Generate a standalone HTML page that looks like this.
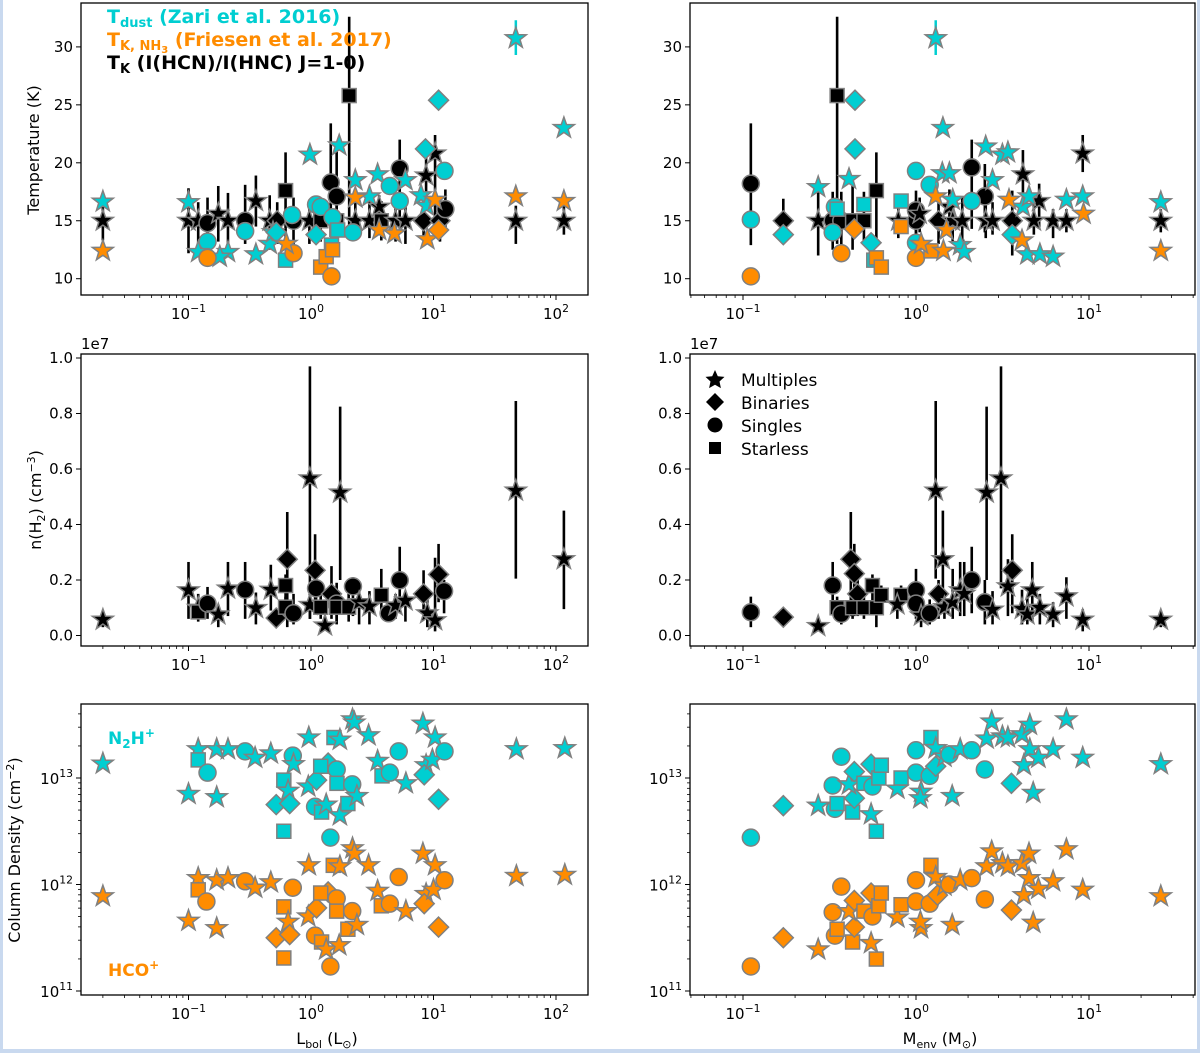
<!DOCTYPE html>
<html><head><meta charset="utf-8"><style>
html,body{margin:0;padding:0;background:#c9d9ef;}
svg{display:block;}
text{font-family:"DejaVu Sans","Liberation Sans",sans-serif;}
</style></head><body>
<svg id="fig" width="1200" height="1053" viewBox="0 0 1200 1053" xmlns="http://www.w3.org/2000/svg">
<rect x="3" y="0" width="1194" height="1049" fill="#ffffff"/>
<g id="layer"></g>
</svg>
<script>
// ---------- data ----------
const tlCyan = [[0.020,16.65,'S'],[0.10,16.6,'S'],[11,25.4,'D'],[47,30.75,'S'],[116,23.0,'S'],[0.98,20.7,'S'],[1.7,21.5,'S'],[8.6,21.2,'D'],[12.3,19.3,'O'],[2.3,18.5,'S'],[3.5,19.0,'S'],[4.4,18.0,'O'],[5.9,18.5,'S'],[5.3,16.7,'O'],[7.9,17.2,'S'],[1.1,16.4,'O'],[0.29,14.1,'O'],[0.143,13.2,'O'],[0.12,12.3,'S'],[0.21,12.3,'S'],[0.18,11.9,'S'],[0.355,12.1,'S'],[0.46,13.0,'S'],[0.49,14.0,'S'],[0.52,14.0,'D'],[0.62,11.6,'Q'],[1.1,13.8,'D'],[1.2,16.2,'O'],[1.47,12.9,'Q'],[1.5,15.3,'O'],[2.2,14.0,'O'],[1.65,14.2,'Q'],[3.0,17.1,'S'],[8.8,16.3,'S'],[0.7,15.5,'O']];
const tlOrange = [[0.020,12.4,'S'],[0.143,11.8,'O'],[0.72,12.2,'O'],[1.2,11.0,'Q'],[1.33,11.9,'Q'],[1.5,12.5,'Q'],[1.47,10.2,'O'],[2.3,17.0,'S'],[3.6,14.2,'S'],[4.8,13.9,'S'],[8.9,13.4,'S'],[10.3,16.8,'S'],[11,14.2,'D'],[47,17.1,'S'],[116,16.7,'S'],[0.63,13.0,'S']];
const tlBlack = [[0.020,15,'S',13.3,16.3],[0.10,15,'S',12.2,17.8],[0.12,15,'S',12.5,16.6],[0.143,14.8,'O',12.6,17.0],[0.175,15.6,'S',13.2,18.0],[0.21,15,'S',12.8,17.4],[0.29,15,'O',13.0,18.1],[0.355,16.7,'S',14.5,18.9],[0.46,15,'S',12.5,17.2],[0.53,15,'D',13.0,16.6],[0.62,17.6,'Q',13.5,20.9],[0.72,15,'O',12.5,17.0],[0.97,15,'S',13.0,16.8],[1.2,15,'Q',13.2,17.0],[1.45,18.3,'O',13.6,23.4],[1.62,17.1,'O',12.4,21.0],[1.62,15,'Q',12.5,18.0],[2.05,25.8,'Q',14.0,32.6],[2.3,15,'S',13.3,17.6],[3.0,15,'S',13.5,16.8],[3.6,16.2,'S',13.8,17.2],[3.75,15,'Q',13.3,16.7],[4.9,15,'S',13.2,17.1],[5.3,19.5,'O',14.3,22.0],[5.9,15,'S',13.0,17.1],[8.3,15,'D',13.5,17.0],[8.7,18.9,'S',16.1,21.3],[10.3,20.8,'S',15.1,22.4],[11.3,15,'D',13.2,17.0],[12.5,16,'O',14.0,17.7],[47,15,'S',13.0,16.3],[116,15,'S',13.8,16.3]];
const trCyan = [[0.111,15.1,'O'],[0.171,13.8,'D'],[0.272,17.9,'S'],[0.41,18.6,'S'],[0.444,25.4,'D'],[0.444,21.2,'D'],[0.34,16.2,'O'],[0.33,14.0,'O'],[0.35,16,'Q'],[0.5,16.4,'Q'],[0.55,13.1,'D'],[0.57,11.6,'Q'],[0.82,16.7,'Q'],[1.0,19.3,'O'],[1.2,18.1,'O'],[1.3,30.75,'S'],[1.43,23.0,'S'],[1.42,19.1,'S'],[1.56,19.1,'S'],[1.63,16.8,'S'],[1.0,13.1,'O'],[2.1,16.7,'O'],[2.53,21.4,'S'],[3.16,20.7,'S'],[3.4,20.9,'S'],[2.77,18.5,'S'],[1.8,12.9,'S'],[1.9,12.3,'S'],[3.6,13.8,'D'],[4.15,16.2,'S'],[4.5,17.1,'S'],[4.4,12.1,'S'],[5.2,12.1,'S'],[6.2,11.9,'S'],[7.4,16.8,'S'],[9.2,17.1,'S'],[26,16.6,'S']];
const trOrange = [[0.111,10.2,'O'],[0.37,12.2,'O'],[0.44,14.3,'D'],[0.59,11.8,'Q'],[0.63,11.0,'Q'],[1.0,11.8,'O'],[1.22,12.4,'Q'],[1.07,13.0,'S'],[1.3,17.1,'S'],[1.44,12.4,'S'],[0.82,14.5,'Q'],[1.5,14.2,'S'],[3.45,16.8,'S'],[4.1,13.3,'S'],[9.3,15.6,'S'],[26,12.4,'S']];
const trBlack = [[0.111,18.2,'O',12.9,23.4],[0.171,15,'D',13.6,16.9],[0.272,15,'S',12.0,18.1],[0.33,15,'O',12.5,17.5],[0.35,25.8,'Q',13.0,32.6],[0.37,15,'O',12.8,17.5],[0.43,15,'Q',12.5,18.0],[0.5,15,'Q',13.0,17.5],[0.59,17.6,'Q',13.2,20.9],[0.79,15,'S',13.5,16.5],[1.0,15,'O',13.2,16.8],[1.0,15.9,'O',13.8,17.6],[1.05,15.6,'S',14.0,17.0],[1.35,15,'D',13.0,17.2],[1.56,16.2,'S',14.0,17.7],[1.63,15,'S',13.0,17.0],[1.85,15,'S',13.2,17.1],[2.1,19.6,'O',14.3,22.0],[2.5,17.1,'O',14.0,19.9],[2.53,15,'S',13.5,17.0],[2.77,15,'S',13.8,16.6],[3.6,15,'D',12.0,17.6],[4.15,19.0,'S',16.0,21.1],[4.8,15,'S',13.8,16.4],[5.15,16.7,'S',14.3,18.2],[6.2,15,'S',13.5,16.0],[7.4,15,'S',14.0,16.0],[9.2,20.8,'S',19.2,22.4],[26,15,'S',14.0,16.0]];
const mlBlack = [[0.020,0.57,'S',0.3,0.8],[0.10,1.63,'S',0.6,2.65],[0.12,1.0,'S',0.5,1.5],[0.12,0.85,'Q',0.6,1.1],[0.143,1.15,'O',0.6,1.75],[0.175,0.76,'S',0.3,1.1],[0.21,1.69,'S',0.7,2.65],[0.29,1.65,'O',0.6,2.65],[0.355,0.99,'S',0.4,1.55],[0.47,1.65,'S',0.9,2.55],[0.52,0.63,'D',0.4,0.9],[0.62,1.8,'Q',1.2,2.2],[0.62,1.02,'Q',0.6,1.4],[0.64,2.75,'D',0.3,4.45],[0.72,0.8,'O',0.4,1.5],[0.98,5.66,'S',0.6,9.7],[0.98,1.1,'S',0.6,1.6],[1.08,2.35,'D',0.8,3.65],[1.1,1.7,'O',1.0,2.2],[1.2,1.02,'Q',0.6,1.5],[1.3,0.36,'S',0.2,0.6],[1.47,1.5,'D',0.6,2.5],[1.62,1.15,'O',0.4,1.9],[1.62,1.02,'Q',0.5,1.5],[1.73,5.15,'S',2.0,8.25],[2.03,1.02,'Q',0.5,1.5],[2.2,1.77,'O',0.7,2.1],[2.47,1.2,'S',0.4,1.6],[3.0,1.05,'S',0.4,1.6],[3.75,1.45,'Q',0.9,2.4],[4.3,0.8,'O',0.5,1.1],[4.9,1.08,'S',0.6,1.5],[5.3,1.99,'O',0.8,3.2],[5.9,1.26,'S',0.5,1.5],[8.3,1.5,'D',0.8,2.35],[8.9,0.8,'S',0.3,1.3],[10.3,0.55,'S',0.15,2.8],[11,2.2,'D',1.2,3.3],[12.2,1.6,'O',0.8,2.0],[47,5.22,'S',2.05,8.45],[116,2.75,'S',0.95,4.5]];
const mrBlack = [[0.111,0.84,'O',0.3,1.4],[0.171,0.66,'D',0.5,0.8],[0.272,0.34,'S',0.2,0.5],[0.33,1.8,'O',1.0,2.65],[0.35,1.0,'Q',0.6,1.4],[0.37,0.78,'O',0.4,1.2],[0.42,2.75,'D',0.7,4.45],[0.44,2.23,'D',0.7,3.3],[0.46,1.5,'D',0.7,2.0],[0.43,1.0,'Q',0.6,1.5],[0.5,1.0,'Q',0.6,1.5],[0.56,1.8,'Q',1.0,2.2],[0.59,1.0,'Q',0.3,1.4],[0.63,1.45,'Q',0.9,1.8],[0.82,1.45,'Q',1.0,1.8],[0.78,1.12,'S',0.6,1.6],[1.0,1.63,'O',1.0,2.4],[1.0,1.15,'O',0.6,1.7],[1.07,0.72,'S',0.3,1.1],[1.2,0.8,'O',0.4,1.3],[1.35,1.5,'D',0.6,2.0],[1.3,5.22,'S',2.05,8.45],[1.43,2.75,'S',0.95,4.5],[1.46,1.02,'S',0.6,1.5],[1.63,1.2,'S',0.6,2.4],[1.8,1.63,'S',0.7,2.65],[1.9,1.5,'S',0.7,2.65],[2.1,1.99,'O',0.8,3.2],[2.5,1.2,'O',0.4,2.0],[2.56,5.15,'S',2.0,8.25],[2.77,0.93,'S',0.4,1.6],[3.1,5.66,'S',1.7,9.7],[3.6,2.35,'D',0.8,3.65],[3.4,1.77,'S',0.7,2.75],[4.1,0.96,'S',0.4,1.65],[4.4,0.76,'S',0.4,1.4],[4.7,1.63,'S',0.5,2.65],[5.2,1.0,'S',0.4,1.5],[6.2,0.76,'S',0.3,1.2],[7.4,1.41,'S',0.6,2.1],[9.2,0.57,'S',0.15,0.95],[26,0.57,'S',0.3,0.8]];
// bottom: [x, log10(N), marker]
const blN2H = [[0.020,13.135,'S'],[0.12,13.27,'S'],[0.12,13.17,'Q'],[0.143,13.05,'O'],[0.10,12.85,'S'],[0.17,13.27,'S'],[0.17,12.82,'S'],[0.21,13.27,'S'],[0.29,13.25,'O'],[0.35,13.19,'S'],[0.47,13.23,'S'],[0.71,13.21,'O'],[0.72,13.13,'S'],[0.6,12.98,'Q'],[0.65,12.88,'S'],[0.52,12.75,'D'],[0.67,12.76,'D'],[0.6,12.5,'Q'],[0.96,13.38,'S'],[0.95,12.92,'S'],[1.11,12.98,'D'],[1.38,13.14,'D'],[1.2,13.11,'Q'],[1.08,12.73,'O'],[1.22,12.68,'Q'],[1.33,12.75,'S'],[1.44,12.44,'O'],[1.54,13.38,'Q'],[1.72,13.36,'S'],[1.62,13.08,'O'],[1.63,12.95,'Q'],[1.72,12.65,'S'],[2.17,12.94,'O'],[2.0,12.76,'Q'],[2.37,12.83,'S'],[2.18,13.55,'S'],[2.26,13.52,'S'],[2.95,13.4,'S'],[3.5,13.16,'S'],[3.8,13.02,'Q'],[4.4,13.05,'O'],[5.2,13.25,'O'],[5.95,12.95,'S'],[8.2,13.51,'S'],[8.7,13.12,'S'],[8.4,13.03,'D'],[10.3,13.38,'S'],[9.8,13.17,'S'],[11,12.8,'D'],[12.3,13.25,'O'],[47.5,13.27,'S'],[118,13.28,'S']];
const blHCO = [[0.020,11.89,'S'],[0.12,12.06,'S'],[0.12,11.95,'Q'],[0.14,11.84,'O'],[0.10,11.66,'S'],[0.17,12.04,'S'],[0.17,11.59,'S'],[0.21,12.06,'S'],[0.29,12.03,'O'],[0.35,11.97,'S'],[0.47,12.02,'S'],[0.71,11.97,'O'],[0.6,11.79,'Q'],[0.65,11.65,'S'],[0.52,11.5,'D'],[0.67,11.53,'D'],[0.6,11.31,'Q'],[0.96,12.18,'S'],[0.95,11.7,'S'],[1.11,11.78,'D'],[1.38,11.93,'D'],[1.2,11.92,'Q'],[1.08,11.52,'O'],[1.22,11.46,'Q'],[1.33,11.39,'S'],[1.44,11.23,'O'],[1.52,12.18,'Q'],[1.72,12.17,'S'],[1.62,11.87,'O'],[1.62,11.75,'Q'],[1.7,11.43,'S'],[2.17,11.75,'O'],[2.0,11.58,'Q'],[2.37,11.62,'S'],[2.18,12.34,'S'],[2.26,12.29,'S'],[2.95,12.18,'S'],[3.5,11.94,'S'],[3.75,11.8,'Q'],[4.4,11.82,'O'],[5.2,12.07,'O'],[5.95,11.75,'S'],[8.2,12.29,'S'],[8.7,11.91,'S'],[8.4,11.82,'D'],[10.3,12.18,'S'],[10,11.95,'S'],[11,11.6,'D'],[12.3,12.04,'O'],[47.5,12.08,'S'],[118,12.09,'S']];
const brN2H = [[0.111,12.44,'O'],[0.171,12.74,'D'],[0.272,12.74,'S'],[0.34,12.71,'O'],[0.33,12.93,'O'],[0.37,13.2,'O'],[0.35,12.76,'Q'],[0.43,12.68,'Q'],[0.44,12.81,'D'],[0.41,12.94,'S'],[0.44,13.06,'D'],[0.5,12.95,'Q'],[0.55,13.13,'D'],[0.56,12.92,'O'],[0.61,13.0,'Q'],[0.63,13.12,'Q'],[0.55,12.66,'S'],[0.59,12.5,'Q'],[0.78,12.9,'S'],[0.82,13.0,'Q'],[1.07,12.87,'S'],[1.06,12.81,'S'],[1.0,13.05,'O'],[1.0,13.26,'O'],[1.2,13.02,'O'],[1.3,13.11,'D'],[1.22,13.38,'Q'],[1.3,13.28,'S'],[1.46,13.2,'S'],[1.62,12.83,'S'],[1.56,13.22,'O'],[1.8,13.27,'S'],[2.1,13.26,'O'],[2.5,13.08,'O'],[2.56,13.37,'S'],[2.74,13.53,'S'],[3.16,13.39,'S'],[3.4,13.38,'S'],[3.56,12.95,'D'],[4.1,13.41,'S'],[4.55,13.5,'S'],[4.2,13.12,'S'],[4.55,13.27,'S'],[5.1,13.19,'S'],[4.76,12.86,'S'],[6.2,13.27,'S'],[7.4,13.55,'S'],[9.2,13.19,'S'],[26,13.13,'S']];
const brHCO = [[0.111,11.23,'O'],[0.171,11.5,'D'],[0.272,11.39,'S'],[0.34,11.52,'O'],[0.33,11.74,'O'],[0.37,11.98,'O'],[0.35,11.58,'Q'],[0.43,11.46,'Q'],[0.44,11.6,'D'],[0.41,11.75,'S'],[0.44,11.85,'D'],[0.5,11.75,'Q'],[0.55,11.92,'D'],[0.56,11.7,'O'],[0.61,11.8,'Q'],[0.63,11.92,'Q'],[0.55,11.45,'S'],[0.59,11.3,'Q'],[0.78,11.69,'S'],[0.82,11.81,'Q'],[1.07,11.59,'S'],[1.06,11.65,'S'],[1.0,11.84,'O'],[1.0,12.04,'O'],[1.2,11.82,'O'],[1.33,11.9,'D'],[1.22,12.18,'Q'],[1.3,12.07,'S'],[1.46,11.99,'S'],[1.62,11.62,'S'],[1.56,12.0,'O'],[1.8,12.04,'S'],[2.1,12.06,'O'],[2.5,11.86,'O'],[2.56,12.17,'S'],[2.74,12.31,'S'],[3.16,12.2,'S'],[3.4,12.17,'S'],[3.56,11.76,'D'],[4.1,12.2,'S'],[4.5,12.29,'S'],[4.2,11.9,'S'],[4.5,12.06,'S'],[5.1,11.96,'S'],[4.76,11.64,'S'],[6.2,12.03,'S'],[7.4,12.33,'S'],[9.2,11.95,'S'],[26,11.89,'S']];
const tempTicks = [10,15,20,25,30];
const densTicks = ['0.0','0.2','0.4','0.6','0.8','1.0'];
const colTicks = [11,12,13];
const lbolDecades = [-1,0,1,2];
const menvDecades = [-1,0,1];
const cyanErr = [[47,30.75,29.3,32.3],[1.3,30.75,29.3,32.3]];

// ---------- geometry ----------
const NS='http://www.w3.org/2000/svg';
const layer=document.getElementById('layer');
const CY='#00CED1', OR='#FF8C00', BK='#000000', ED='#808080';
const L={x0:81,x1:588,c:311,d:122.5}, R={x0:690,x1:1195,c:916,d:173};
const TOP={y0:3,y1:295}, MID={y0:354,y1:646}, BOT={y0:704,y1:995};
function xl(p,v){return p.c+p.d*Math.log10(v);}
function yT(v){return 278.7-(v-10)*11.59;}
function yM(v){return 635.5-v*27.75;}
function yB(e){return 778-(e-13)*106.5;}
function el(tag,attrs,parent){const e=document.createElementNS(NS,tag);for(const k in attrs)e.setAttribute(k,attrs[k]);(parent||layer).appendChild(e);return e;}
function marker(g,t,cx,cy,fill){
  let e;
  if(t==='S'){let pts=[];for(let i=0;i<10;i++){const r=i%2?4.4:11;const a=-Math.PI/2+i*Math.PI/5;pts.push((cx+r*Math.cos(a)).toFixed(1)+','+(cy+r*Math.sin(a)).toFixed(1));}
    e=el('polygon',{points:pts.join(' ')},g);}
  else if(t==='D'){e=el('polygon',{points:`${cx},${cy-10} ${cx+10},${cy} ${cx},${cy+10} ${cx-10},${cy}`},g);}
  else if(t==='O'){e=el('circle',{cx:cx,cy:cy,r:8.5},g);}
  else {e=el('rect',{x:cx-7,y:cy-7,width:14,height:14},g);}
  e.setAttribute('fill',fill);e.setAttribute('stroke',ED);e.setAttribute('stroke-width','1.5');
  return e;
}
function sup(g,x,y,base,exp,anchor,size){
  const e=el('text',{x:x,y:y,'font-size':size||15,'text-anchor':anchor||'middle',fill:'#000'},g);
  e.appendChild(document.createTextNode(base));
  const s=el('tspan',{dy:-7,'font-size':(size||15)*0.72},e);s.textContent=exp;
  return e;
}
function frame(p,Y,name){
  const g=el('g',{});
  
  
  return g;
}
function drawFrame(g,p,Y){
  const r=el('rect',{x:p.x0,y:Y.y0,width:p.x1-p.x0,height:Y.y1-Y.y0,fill:'none',stroke:'#000','stroke-width':1.3},g);
  
  
}
function xLogTicks(g,p,Y,decs,labels){
  for(let d=-3;d<=3;d++)for(let m=1;m<10;m++){
    const x=p.c+p.d*(d+Math.log10(m));
    if(x<p.x0||x>p.x1)continue;
    el('line',{x1:x,x2:x,y1:Y.y1,y2:Y.y1+(m===1?5:3),stroke:'#000','stroke-width':m===1?1:0.8},g);
  }
  if(!labels)return;
  decs.forEach(d=>{const t=sup(g,p.c+p.d*d,Y.y1+24,'10',d<0?'\u22121':String(d));
    });
}
function drawSeries(g,arr,xs,yf,fill,err,name){
  const gg=el('g',{},g);
  
  
  if(err)arr.forEach(d=>{el('line',{x1:xl(xs,d[0]),x2:xl(xs,d[0]),y1:yf(d[3]),y2:yf(d[4]),stroke:'#000','stroke-width':2.6},gg);});
  arr.forEach(d=>{const m=marker(gg,d[2],xl(xs,d[0]),yf(d[1]),fill);
    });
}

// ---------- top row ----------
[[L,'temperature-vs-lbol',tlCyan,tlOrange,tlBlack,lbolDecades],[R,'temperature-vs-menv',trCyan,trOrange,trBlack,menvDecades]].forEach(([p,nm,c,o,b,decs],i)=>{
  const g=frame(p,TOP,nm);
  tempTicks.forEach(v=>{const y=yT(v);el('line',{x1:p.x0-5,x2:p.x0,y1:y,y2:y,stroke:'#000'},g);
    const t=el('text',{x:p.x0-8,y:y+5,'font-size':15,'text-anchor':'end'},g);t.textContent=v;
    });
  xLogTicks(g,p,TOP,decs,true);
  cyanErr.forEach(d=>{if((i===0&&d[0]>10)||(i===1&&d[0]<10)){const x=xl(p,d[0]);el('line',{x1:x,x2:x,y1:yT(d[2]),y2:yT(d[3]),stroke:CY,'stroke-width':2.5},g);}});
  drawSeries(g,b,p,yT,BK,true,'tk-hcn-hnc-series');
  drawSeries(g,c,p,yT,CY,false,'tdust-series');
  drawSeries(g,o,p,yT,OR,false,'tk-nh3-series');
  drawFrame(g,p,TOP);
});
// ---------- middle row ----------
[[L,'density-vs-lbol',mlBlack,lbolDecades],[R,'density-vs-menv',mrBlack,menvDecades]].forEach(([p,nm,b,decs])=>{
  const g=frame(p,MID,nm);
  densTicks.forEach(s=>{const y=yM(parseFloat(s)*10);el('line',{x1:p.x0-5,x2:p.x0,y1:y,y2:y,stroke:'#000'},g);
    const t=el('text',{x:p.x0-8,y:y+5,'font-size':15,'text-anchor':'end'},g);t.textContent=s;
    });
  const off=el('text',{x:p.x0,y:MID.y0-5,'font-size':15},g);off.textContent='1e7';
  
  xLogTicks(g,p,MID,decs,true);
  drawSeries(g,b,p,yM,BK,true,'nh2-series');
  drawFrame(g,p,MID);
});
// ---------- bottom row ----------
[[L,'column-density-vs-lbol',blN2H,blHCO,lbolDecades],[R,'column-density-vs-menv',brN2H,brHCO,menvDecades]].forEach(([p,nm,c,o,decs])=>{
  const g=frame(p,BOT,nm);
  for(let d=10;d<=13;d++)for(let m=1;m<10;m++){const y=yB(d+Math.log10(m));if(y<BOT.y0||y>BOT.y1)continue;
    el('line',{x1:p.x0-(m===1?5:3),x2:p.x0,y1:y,y2:y,stroke:'#000','stroke-width':m===1?1:0.8},g);}
  colTicks.forEach(d=>{const t=sup(g,p.x0-8,yB(d)+6,'10',String(d),'end');
    });
  xLogTicks(g,p,BOT,decs,true);
  drawSeries(g,c,p,yB,CY,false,'n2h-series');
  drawSeries(g,o,p,yB,OR,false,'hco-series');
  drawFrame(g,p,BOT);
});
</script>
<svg style="position:absolute;left:0;top:0" width="1200" height="1053" xmlns="http://www.w3.org/2000/svg">
<text x="107" y="23" font-size="19" font-weight="bold" fill="#00CED1" font-family="DejaVu Sans, sans-serif">T<tspan font-size="13" dy="4">dust</tspan><tspan dy="-4"> (Zari et al. 2016)</tspan></text>
<text x="107" y="46" font-size="19" font-weight="bold" fill="#FF8C00" font-family="DejaVu Sans, sans-serif">T<tspan font-size="13" dy="4">K, NH</tspan><tspan font-size="10" dy="3">3</tspan><tspan dy="-7"> (Friesen et al. 2017)</tspan></text>
<text x="107" y="69" font-size="19" font-weight="bold" fill="#000" font-family="DejaVu Sans, sans-serif">T<tspan font-size="13" dy="4">K</tspan><tspan dy="-4"> (I(HCN)/I(HNC) J=1-0)</tspan></text>
<text transform="translate(39,150) rotate(-90)" text-anchor="middle" font-size="16" font-family="DejaVu Sans, sans-serif">Temperature (K)</text>
<text transform="translate(41,500) rotate(-90)" text-anchor="middle" font-size="16" font-family="DejaVu Sans, sans-serif">n(H<tspan font-size="11" dy="4">2</tspan><tspan dy="-4">) (cm</tspan><tspan font-size="11" dy="-6">−3</tspan><tspan dy="6">)</tspan></text>
<text transform="translate(20,850) rotate(-90)" text-anchor="middle" font-size="16" font-family="DejaVu Sans, sans-serif">Column Density (cm<tspan font-size="11" dy="-6">−2</tspan><tspan dy="6">)</tspan></text>
<text x="327" y="1044" text-anchor="middle" font-size="16" font-family="DejaVu Sans, sans-serif">L<tspan font-size="11" dy="4">bol</tspan><tspan dy="-4"> (L</tspan><tspan font-size="11" dy="4">⊙</tspan><tspan dy="-4">)</tspan></text>
<text x="940" y="1044" text-anchor="middle" font-size="16" font-family="DejaVu Sans, sans-serif">M<tspan font-size="11" dy="4">env</tspan><tspan dy="-4"> (M</tspan><tspan font-size="11" dy="4">⊙</tspan><tspan dy="-4">)</tspan></text>
<text x="108" y="744" font-size="17" font-weight="bold" fill="#00CED1" font-family="DejaVu Sans, sans-serif">N<tspan font-size="12" dy="4">2</tspan><tspan dy="-4">H</tspan><tspan font-size="12" dy="-7">+</tspan></text>
<text x="108" y="976" font-size="17" font-weight="bold" fill="#FF8C00" font-family="DejaVu Sans, sans-serif">HCO<tspan font-size="12" dy="-7">+</tspan></text>
<g font-family="DejaVu Sans, sans-serif" font-size="17">
<polygon points="715,370 717.8,376.2 724.5,376.9 719.5,381.5 720.9,388.1 715,384.7 709.1,388.1 710.5,381.5 705.5,376.9 712.2,376.2" fill="#000"/>
<text x="741" y="386">Multiples</text>
<polygon points="715,393 724,402 715,411 706,402" fill="#000"/>
<text x="741" y="409">Binaries</text>
<circle cx="715" cy="425" r="7.5" fill="#000"/>
<text x="741" y="432">Singles</text>
<rect x="709" y="442" width="12" height="12" fill="#000"/>
<text x="741" y="455">Starless</text>
</g>
</svg>
</body></html>
